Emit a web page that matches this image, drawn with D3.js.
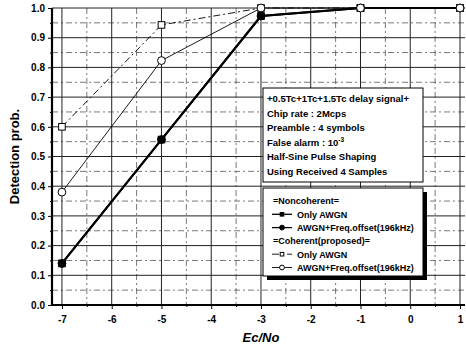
<!DOCTYPE html>
<html>
<head>
<meta charset="utf-8">
<script src="https://d3js.org/d3.v7.min.js"></script>
<style>
  body { margin: 0; background: #fff; font-family: "Liberation Sans", Arial, sans-serif; }
  svg text { font-weight: bold; fill: #000; }
</style>
</head>
<body>
<div id="chart"></div>
<script>
  // data
  const ecno = [-7, -5, -3, -1, 1];
  const nonCohAwgn = [0.14, 0.557, 0.973, 1.0, 1.0];
  const nonCohFreq = [0.14, 0.557, 0.973, 1.0, 1.0];
  const cohAwgn = [0.60, 0.943, 1.0, 1.0, 1.0];
  const cohFreq = [0.38, 0.823, 1.0, 1.0, 1.0];
  const xTicks = [-7, -6, -5, -4, -3, -2, -1, 0, 1];
  const yTicks = [0, 0.1, 0.2, 0.3, 0.4, 0.5, 0.6, 0.7, 0.8, 0.9, 1.0];
  const infoLines = ["+0.5Tc+1Tc+1.5Tc delay signal+", "Chip rate : 2Mcps", "Preamble : 4 symbols",
    "False alarm : 10", "Half-Sine Pulse Shaping", "Using Received 4 Samples"];

  const width = 466, height = 350;
  const svg = d3.select("#chart").append("svg").attr("width", width).attr("height", height);

  const x = d3.scaleLinear().domain([-7.2, 1]).range([52, 460]);
  const y = d3.scaleLinear().domain([0, 1]).range([305, 8]);
  const xRight = 465;

  // grid: minor dashed first, then major
  const g = svg.append("g");
  d3.range(-6.5, 1.01, 1).forEach(v => {
    g.append("line").attr("x1", x(v)).attr("x2", x(v)).attr("y1", y(1)).attr("y2", y(0))
      .attr("stroke", "#555").attr("stroke-width", 0.8).attr("stroke-dasharray", "6,3,2,3");
  });
  d3.range(0.05, 1, 0.1).forEach(v => {
    g.append("line").attr("x1", x(-7.2)).attr("x2", xRight).attr("y1", y(v)).attr("y2", y(v))
      .attr("stroke", "#555").attr("stroke-width", 0.8).attr("stroke-dasharray", "6,3,2,3");
  });
  xTicks.forEach(v => {
    g.append("line").attr("x1", x(v)).attr("x2", x(v)).attr("y1", y(1)).attr("y2", y(0))
      .attr("stroke", "#222").attr("stroke-width", 1);
  });
  yTicks.forEach(v => {
    g.append("line").attr("x1", x(-7.2)).attr("x2", xRight).attr("y1", y(v)).attr("y2", y(v))
      .attr("stroke", "#222").attr("stroke-width", 1);
  });

  // axes
  const xAxis = svg.append("g").attr("transform", `translate(0,${y(0)})`)
    .call(d3.axisBottom(x).tickValues(xTicks).tickSize(4).tickFormat(d => String(d)));
  xAxis.select(".domain").remove();
  xAxis.selectAll("text").attr("font-size", 10).attr("dy", "1.1em");
  svg.append("g").attr("transform", `translate(0,${y(0)})`)
    .call(d3.axisBottom(x).tickValues(d3.range(-6.5, 1, 1)).tickSize(2).tickFormat(""))
    .select(".domain").remove();

  const yAxis = svg.append("g").attr("transform", `translate(${x(-7.2)},0)`)
    .call(d3.axisLeft(y).tickValues(yTicks).tickSize(4).tickFormat(d3.format(".1f")));
  yAxis.select(".domain").remove();
  yAxis.selectAll("text").attr("font-size", 10);
  svg.append("g").attr("transform", `translate(${x(-7.2)},0)`)
    .call(d3.axisLeft(y).tickValues(d3.range(0.05, 1, 0.1)).tickSize(2).tickFormat(""))
    .select(".domain").remove();

  svg.append("line").attr("x1", x(-7.2)).attr("x2", x(-7.2)).attr("y1", y(1)).attr("y2", y(0) + 1)
    .attr("stroke", "#000").attr("stroke-width", 2.2);
  svg.append("line").attr("x1", x(-7.2) - 1).attr("x2", xRight).attr("y1", y(0)).attr("y2", y(0))
    .attr("stroke", "#000").attr("stroke-width", 2.2);

  // axis titles
  svg.append("text").attr("transform", `translate(19,${y(0.5)}) rotate(-90)`)
    .attr("text-anchor", "middle").attr("font-size", 13).text("Detection prob.");
  svg.append("text").attr("x", x(-3)).attr("y", 342).attr("text-anchor", "middle")
    .attr("font-size", 13).attr("font-style", "italic").text("Ec/No");

  // series (noncoherent drawn first, coherent markers sit on top)
  const line = d3.line().x(d => x(d[0])).y(d => y(d[1]));
  const series = [
    { vals: nonCohFreq, w: 2, dash: null, mark: "circle", fill: "#000" },
    { vals: nonCohAwgn, w: 2, dash: null, mark: "square", fill: "#000" },
    { vals: cohAwgn, w: 0.9, dash: "7,3,2,3", mark: "square", fill: "#fff" },
    { vals: cohFreq, w: 0.9, dash: null, mark: "circle", fill: "#fff" }
  ];
  const marker = (sel, s, cx, cy, size) => {
    if (s.mark === "square") {
      sel.append("rect").attr("x", cx - size).attr("y", cy - size)
        .attr("width", size * 2).attr("height", size * 2)
        .attr("fill", s.fill).attr("stroke", "#000").attr("stroke-width", 1);
    } else {
      sel.append("circle").attr("cx", cx).attr("cy", cy).attr("r", size + 0.6)
        .attr("fill", s.fill).attr("stroke", "#000").attr("stroke-width", 1);
    }
  };
  series.forEach(s => {
    const pts = ecno.map((e, i) => [e, s.vals[i]]);
    svg.append("path").datum(pts).attr("d", line).attr("fill", "none")
      .attr("stroke", "#000").attr("stroke-width", s.w)
      .attr("stroke-dasharray", s.dash);
  });
  series.forEach(s => {
    ecno.forEach((e, i) => marker(svg, s, x(e), y(s.vals[i]), 3.3));
  });

  // info box
  const info = svg.append("g");
  info.append("rect").attr("x", 263).attr("y", 88).attr("width", 160).attr("height", 94)
    .attr("fill", "#fff").attr("stroke", "#000").attr("stroke-width", 1);
  infoLines.forEach((t, i) => {
    const tx = info.append("text").attr("x", 267).attr("y", 102 + i * 14.6).attr("font-size", 9.5).text(t);
    if (i === 3) tx.append("tspan").attr("dy", -4).attr("font-size", 6.5).text("-3");
  });

  // legend with shadow
  const lg = svg.append("g");
  lg.append("rect").attr("x", 267).attr("y", 192).attr("width", 160).attr("height", 88).attr("fill", "#000");
  lg.append("rect").attr("x", 263).attr("y", 188).attr("width", 160).attr("height", 88)
    .attr("fill", "#fff").attr("stroke", "#000").attr("stroke-width", 1);
  const legendRows = [
    { label: "=Noncoherent=", s: null },
    { label: "Only AWGN", s: series[1] },
    { label: "AWGN+Freq.offset(196kHz)", s: series[0] },
    { label: "=Coherent(proposed)=", s: null },
    { label: "Only AWGN", s: series[2] },
    { label: "AWGN+Freq.offset(196kHz)", s: series[3] }
  ];
  legendRows.forEach((r, i) => {
    const ly = 201 + i * 13.3;
    if (!r.s) {
      lg.append("text").attr("x", 273).attr("y", ly + 3).attr("font-size", 9).text(r.label);
      return;
    }
    lg.append("line").attr("x1", 272).attr("x2", 292).attr("y1", ly).attr("y2", ly)
      .attr("stroke", "#000").attr("stroke-width", r.s.w > 1 ? 1.3 : 0.9)
      .attr("stroke-dasharray", r.s.dash);
    marker(lg, r.s, 282, ly, 1.8);
    lg.append("text").attr("x", 297).attr("y", ly + 3.5).attr("font-size", 9).text(r.label);
  });
</script>
</body>
</html>
